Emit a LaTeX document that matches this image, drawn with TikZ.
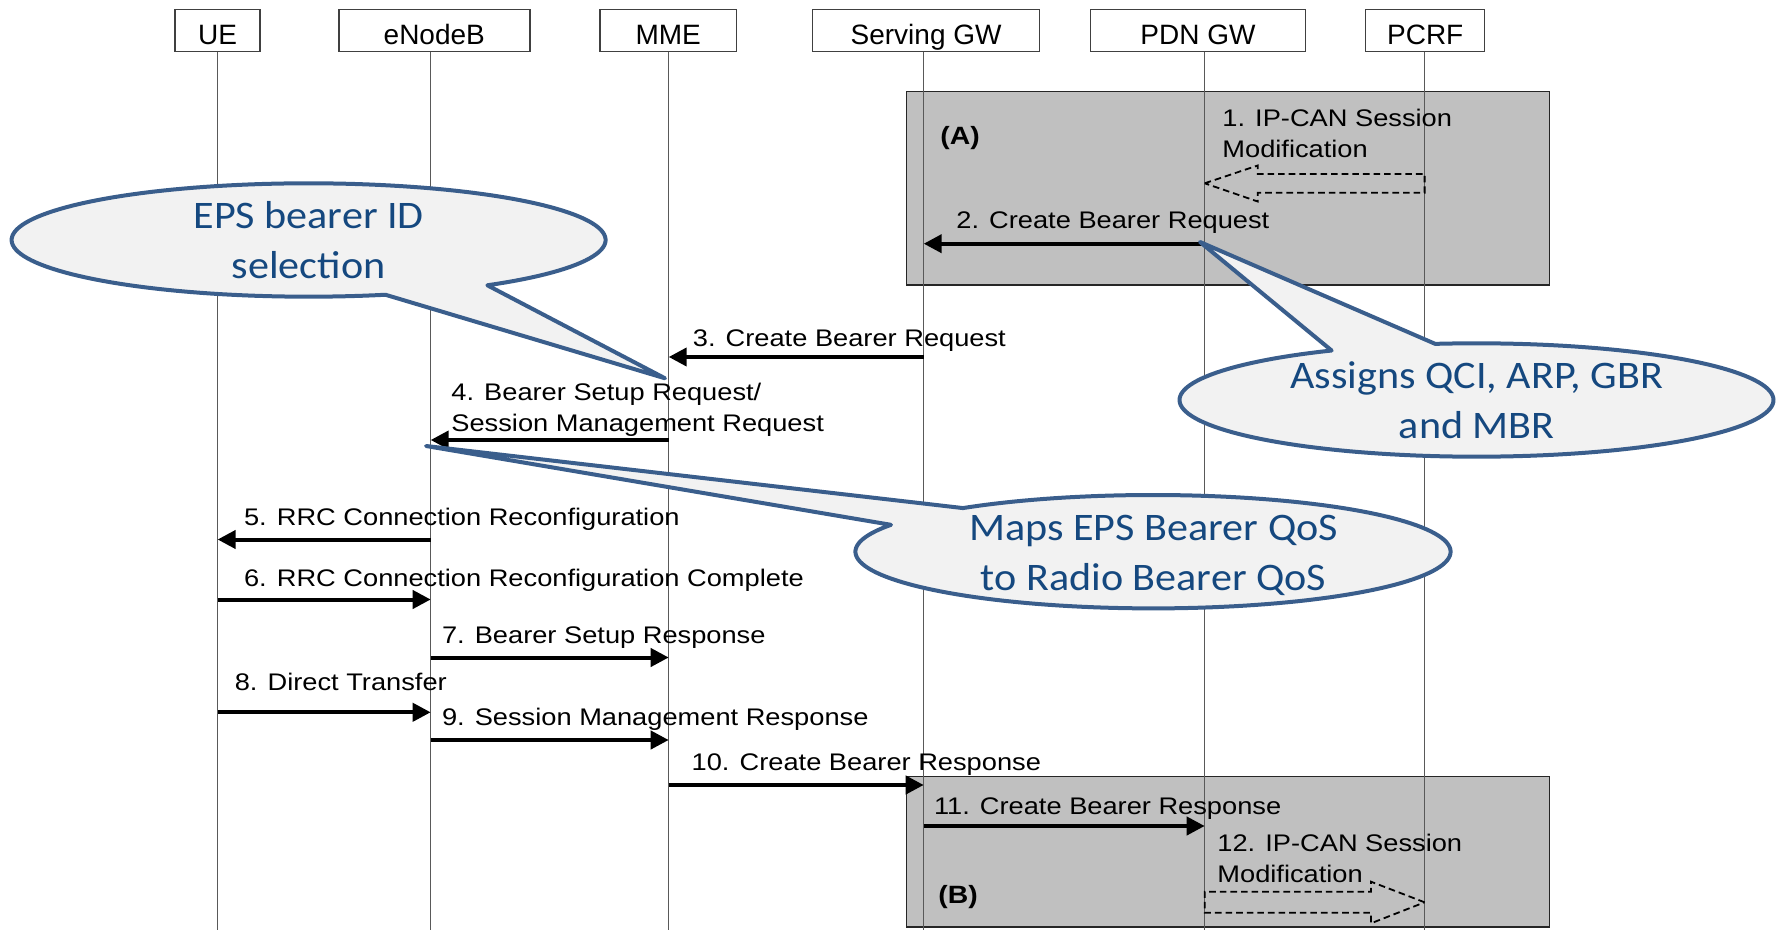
\documentclass[tikz,border=0pt]{standalone}
\usepackage{fontspec}
\setmainfont{Liberation Sans}
\newfontfamily\msgfont{Liberation Sans}[FakeStretch=1.135]
\newfontfamily\callfont{Carlito}[FakeStretch=1.08]
\usetikzlibrary{arrows.meta,calc}
\definecolor{phasegray}{HTML}{C0C0C0}
\definecolor{callfill}{HTML}{F2F2F2}
\definecolor{callline}{HTML}{3A5E8C}
\definecolor{calltext}{HTML}{15487F}
\begin{document}
\begin{tikzpicture}[x=0.5pt,y=-0.5pt,
  entity/.style={draw=black!75, line width=0.7pt, fill=white, minimum width=#1,
    minimum height=21.2pt, inner sep=0pt, text height=14.5pt, text depth=0pt,
    font=\fontsize{14}{16}\selectfont},
  lifeline/.style={draw=black!65, line width=0.55pt},
  phase/.style={fill=phasegray, draw=black!85, line width=0.65pt},
  msg/.style={line width=2pt, -{Triangle[length=9pt,width=9pt]}},
  lbl/.style={anchor=base west, inner sep=0pt, font=\msgfont\fontsize{12}{14}\selectfont},
  phaselbl/.style={anchor=base west, inner sep=0pt, font=\msgfont\bfseries\fontsize{12.5}{14}\selectfont},
  blockarrow/.style={draw=black, line width=0.9pt, dash pattern=on 3.3pt off 2pt},
  callout/.style={fill=callfill, draw=callline, line width=2pt, line join=round},
  calltxt/.style={anchor=base, inner sep=0pt, text=calltext, font=\callfont\fontsize{19.5}{24}\selectfont}]

\path[use as bounding box] (0,0) rectangle (1777,930);

% shaded phases (A) and (B)
\draw[phase] (906.5,91.5) rectangle (1549.3,285);
\draw[phase] (906.6,776.7) rectangle (1549.6,927);
\node[phaselbl] (phaseA) at (940,145) {(A)};
\node[phaselbl] (phaseB) at (938,903) {(B)};

% entities
\node[entity=42.5pt]  (ue)   at (217.6,30.5)  {UE};
\node[entity=95.5pt]  (enb)  at (434.3,30.5)  {eNodeB};
\node[entity=68.3pt]  (mme)  at (668.2,30.5)  {MME};
\node[entity=113.5pt] (sgw)  at (926.1,30.5)  {Serving GW};
\node[entity=107.5pt] (pdn)  at (1198,30.5)   {PDN GW};
\node[entity=59.5pt]  (pcrf) at (1425.2,30.5) {PCRF};

% lifelines
\coordinate (ll-ue)   at (217.6,51.7);
\coordinate (ll-enb)  at (430.7,51.7);
\coordinate (ll-mme)  at (668.7,51.7);
\coordinate (ll-sgw)  at (923.7,51.7);
\coordinate (ll-pdn)  at (1204.7,51.7);
\coordinate (ll-pcrf) at (1424.6,51.7);
\foreach \l in {ue,enb,mme,sgw,pdn,pcrf}
  \draw[lifeline] (ll-\l) -- (ll-\l |- 0,930);

% 1. IP-CAN Session Modification (PCRF -> PDN GW)
\draw[blockarrow] (ll-pdn |- 0,183.3) -- ++(53,-17.8) -- ++(0,8.5)
  -- (ll-pcrf |- 0,174) -- (ll-pcrf |- 0,192.7)
  -- ($(ll-pdn |- 0,192.7)+(53,0)$) -- ++(0,8.8) -- cycle;
\node[lbl] (l1a) at (1222,127) {1. IP-CAN Session};
\node[lbl] (l1b) at (1222,158) {Modification};

% 2 .. 11
\draw[msg] (ll-pdn |- 0,243.7) -- (ll-sgw |- 0,243.7);
\node[lbl] (l2) at (956,229) {2. Create Bearer Request};

\draw[msg] (ll-sgw |- 0,357) -- (ll-mme |- 0,357);
\node[lbl] (l3) at (692.5,346.7) {3. Create Bearer Request};

\draw[msg] (ll-mme |- 0,440) -- (ll-enb |- 0,440);
\node[lbl] (l4a) at (451,400.5) {4. Bearer Setup Request/};
\node[lbl] (l4b) at (451,431.5) {Session Management Request};

\draw[msg] (ll-enb |- 0,539.5) -- (ll-ue |- 0,539.5);
\node[lbl] (l5) at (243.7,525) {5. RRC Connection Reconfiguration};

\draw[msg] (ll-ue |- 0,599.5) -- (ll-enb |- 0,599.5);
\node[lbl] (l6) at (243.7,586) {6. RRC Connection Reconfiguration Complete};

\draw[msg] (ll-enb |- 0,657.5) -- (ll-mme |- 0,657.5);
\node[lbl] (l7) at (441.6,643) {7. Bearer Setup Response};

\draw[msg] (ll-ue |- 0,712.3) -- (ll-enb |- 0,712.3);
\node[lbl] (l8) at (234.4,690.7) {8. Direct Transfer};

\draw[msg] (ll-enb |- 0,740) -- (ll-mme |- 0,740);
\node[lbl] (l9) at (441.6,725) {9. Session Management Response};

\draw[msg] (ll-mme |- 0,785) -- (ll-sgw |- 0,785);
\node[lbl] (l10) at (691.3,770) {10. Create Bearer Response};

\draw[msg] (ll-sgw |- 0,826) -- (ll-pdn |- 0,826);
\node[lbl] (l11) at (933.6,814) {11. Create Bearer Response};

% 12. IP-CAN Session Modification (PDN GW -> PCRF)
\draw[blockarrow] (ll-pcrf |- 0,902.3) -- ++(-53.6,-20.6) -- ++(0,10)
  -- (ll-pdn |- 0,891.7) -- (ll-pdn |- 0,912.7)
  -- ($(ll-pcrf |- 0,912.7)+(-53.6,0)$) -- ++(0,10.6) -- cycle;
\node[lbl] (l12a) at (1217,851.7) {12. IP-CAN Session};
\node[lbl] (l12b) at (1217,882.7) {Modification};

% callouts
\path[callout] plot[domain=75:413, samples=150, variable=\t]
  ({308.6+297*cos(\t)},{240+56.7*sin(\t)}) -- (665,378.3) -- cycle;
\node[calltxt] (c1a) at (308.6,229) {EPS bearer ID};
\node[calltxt] (c1b) at (308.6,279) {selection};

\path[callout] plot[domain=262:600.8, samples=150, variable=\t]
  ({1476.5+297*cos(\t)},{400+56.7*sin(\t)}) -- (1200,242) -- cycle;
\node[calltxt] (c2a) at (1476.8,388.3) {Assigns QCI, ARP, GBR};
\node[calltxt] (c2b) at (1476.8,438.3) {and MBR};

\path[callout] plot[domain=230.3:568.3, samples=150, variable=\t]
  ({1153+297.6*cos(\t)},{551.7+56.7*sin(\t)}) -- (426,446) -- cycle;
\node[calltxt] (c3a) at (1153.6,540) {Maps EPS Bearer QoS};
\node[calltxt] (c3b) at (1153.6,590) {to Radio Bearer QoS};

\end{tikzpicture}
\end{document}
